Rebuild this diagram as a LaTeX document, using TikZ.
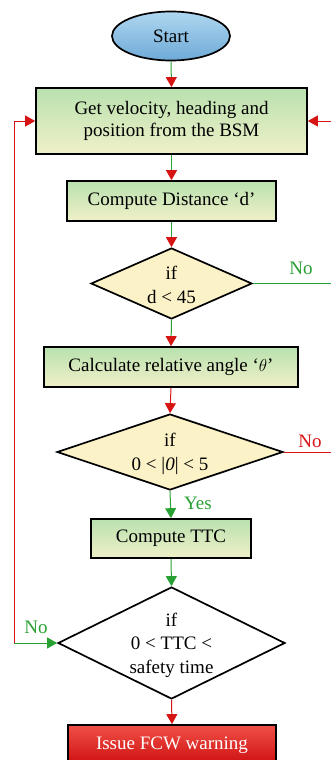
\documentclass[tikz,border=0pt]{standalone}
\usepackage{fontspec}
\setmainfont{Liberation Serif}
\usetikzlibrary{shapes.geometric,arrows.meta}
\definecolor{lgreen}{RGB}{40,160,50}
\definecolor{lred}{RGB}{215,20,20}
\definecolor{boxtop}{RGB}{185,225,175}
\definecolor{boxbot}{RGB}{240,240,200}
\definecolor{diafill}{RGB}{252,242,200}
\definecolor{elltop}{RGB}{175,215,240}
\definecolor{ellbot}{RGB}{110,170,215}
\definecolor{redtop}{RGB}{240,80,70}
\definecolor{redbot}{RGB}{205,15,15}
\begin{document}
\begin{tikzpicture}[x=1pt,y=-1pt,
  font=\fontsize{19}{22}\selectfont,
  every node/.style={inner sep=0pt},
  procbox/.style={draw=black,line width=1.7pt,rectangle,top color=boxtop,bottom color=boxbot,align=center},
  dia/.style={draw=black,line width=1.7pt,diamond,fill=diafill},
  diatxt/.style={align=center,font=\fontsize{19}{23.5}\selectfont},
  startell/.style={draw=black,line width=1.7pt,ellipse,top color=elltop,bottom color=ellbot},
  endbox/.style={draw=black,line width=1.7pt,rectangle,top color=redtop,bottom color=redbot,text=white},
  rtip/.style={-{Triangle[length=10pt,width=11pt,color=lred]},line width=1pt},
  gtip/.style={-{Triangle[length=10pt,width=11pt,color=lgreen]},line width=1pt},
  gline/.style={draw=lgreen,line width=1pt},
  rline/.style={draw=lred,line width=1pt},
  lbl/.style={font=\fontsize{19}{22}\selectfont}
]
\useasboundingbox (0,0) rectangle (331,760);

\node[startell,minimum width=118pt,minimum height=49pt] (start) at (171,36) {Start};
\node[procbox,minimum width=271pt,minimum height=66pt] (b1) at (171.5,121) {Get velocity, heading and\\position from the BSM};
\node[procbox,minimum width=209pt,minimum height=40pt] (b2) at (171.5,201) {Compute Distance ‘d’};
\node[dia,minimum width=161pt,minimum height=71pt] (d1) at (171.5,283.5) {};
\node[diatxt] (d1t) at (171.5,285) {if\\d < 45};
\node[procbox,minimum width=254pt,minimum height=40pt] (b3) at (171,367) {Calculate relative angle ‘$\theta$’};
\node[dia,minimum width=226pt,minimum height=76pt] (d2) at (170,452) {};
\node[diatxt] (d2t) at (170,454) {if\\0 < |\textit{0}| < 5};
\node[procbox,minimum width=160pt,minimum height=39pt] (b4) at (171,538.5) {Compute TTC};
\node[dia,minimum width=227pt,minimum height=112pt,fill=white] (d3) at (171.5,643) {};
\node[diatxt] (d3t) at (171.5,645) {if\\0 < TTC <\\safety time};
\node[endbox,minimum width=208pt,minimum height=40pt] (fin) at (172,745) {Issue FCW warning};

\coordinate (ll) at (14,643);
\coordinate (lu) at (14,121);
\coordinate (rin) at (331,121);
\coordinate (r1) at (331,283.5);
\coordinate (r2) at (331,452);

% vertical arrows
\draw[gline,rtip] (start.south) -- (b1.north);
\draw[gline,rtip] (b1.south) -- (b2.north);
\draw[gline,rtip] (b2.south) -- (d1.north);
\draw[gline,rtip] (d1.south) -- (b3.north);
\draw[rline,rtip] (b3.south) -- (d2.north);
\draw[gline,gtip] (d2.south) -- (b4.north);
\draw[gline,gtip] (b4.south) -- (d3.north);
\draw[rline,rtip] (d3.south) -- (fin.north);

% left loop
\draw[gline,gtip] (ll) -- (d3.west);
\draw[rline,rtip] (ll) -- (lu) -- (b1.west);

% right side
\draw[rline,rtip] (rin) -- (b1.east);
\draw[gline] (d1.east) -- (r1);
\draw[rline] (d2.east) -- (r2);

% labels
\node[lbl,text=lgreen] (no1) at (301,268) {No};
\node[lbl,text=lred] (no2) at (310,441) {No};
\node[lbl,text=lgreen] (yes) at (198,503) {Yes};
\node[lbl,text=lgreen] (no3) at (36,627) {No};
\end{tikzpicture}
\end{document}
